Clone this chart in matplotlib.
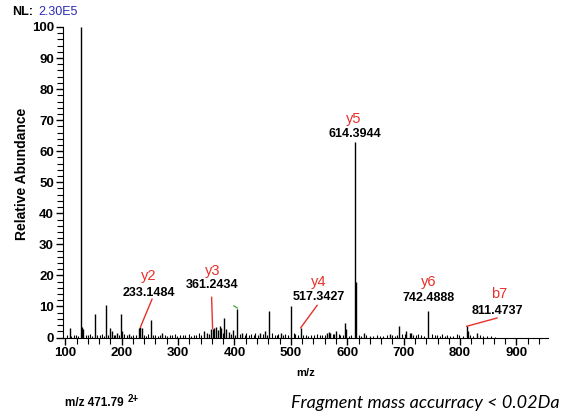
import matplotlib.pyplot as plt
from matplotlib.ticker import MultipleLocator

plt.rcParams['font.family'] = ['Liberation Sans', 'DejaVu Sans']

# MS/MS spectrum, precursor m/z 471.79 (2+)
# main / annotated fragment peaks
ion_labels = ['y2', 'y3', 'y4', 'y5', 'y6', 'b7']
ion_mz = [233.1484, 361.2434, 517.3427, 614.3944, 742.4888, 811.4737]
ion_int = [3.3, 2.8, 3.1, 63.0, 8.5, 3.6]

# other noticeable peaks
peak_mz = [107.7, 128.1, 130.0, 132.0, 152.6, 171.5, 180.0, 183.0, 192.0, 198.7,
           201.0, 213.0, 230.6, 235.5, 252.5, 272.0, 346.0, 352.0, 359.0, 363.6,
           367.7, 371.0, 373.6, 377.0, 382.0, 385.5, 390.0, 397.0, 405.0, 414.0,
           446.0, 455.0, 462.0, 481.7, 501.0, 564.0, 567.0, 570.0, 580.5, 596.5,
           598.0, 615.4, 629.0, 676.0, 692.0, 704.6, 710.5, 713.5, 813.3, 830.0]
peak_int = [3.0, 100.0, 3.4, 2.7, 7.7, 10.4, 3.2, 2.0, 1.6, 7.5,
            2.0, 1.2, 3.2, 3.0, 5.7, 1.4, 2.1, 1.6, 2.7, 3.0,
            3.5, 2.5, 3.8, 3.2, 6.2, 2.7, 1.8, 2.4, 9.1, 1.4,
            1.6, 2.1, 8.6, 1.6, 10.2, 1.6, 1.8, 1.6, 2.1, 4.6,
            2.7, 18.0, 1.6, 1.1, 3.75, 2.1, 1.4, 1.5, 2.1, 1.4]

# low level baseline peaks
noise_mz = [103, 111, 115, 119, 123, 136, 140, 144, 148, 157, 161, 165, 168, 175,
            186, 189, 195, 205, 209, 217, 221, 225, 239, 243, 247, 256, 260, 264,
            268, 277, 281, 286, 290, 295, 299, 304, 308, 313, 319, 323, 328, 332,
            337, 341, 355, 380, 393, 401, 409, 418, 421, 425, 430, 434, 437, 441,
            450, 458, 467, 471, 475, 478, 486, 490, 495, 505, 508, 512, 521, 526,
            531, 536, 541, 546, 552, 556, 560, 574, 576, 584.6, 588, 592, 603, 607,
            620, 625, 634, 640, 646, 652.6, 658, 664, 670, 679, 684, 688, 697,
            701.7, 717, 721, 726, 731, 736, 750, 755, 759, 764, 768, 773, 777, 782,
            788, 794.5, 799, 805, 818, 823, 836, 841, 848, 855, 862]
noise_int = [0.8, 0.6, 0.9, 0.7, 0.6, 0.8, 0.7, 1.0, 0.6, 0.9, 0.7, 1.1, 0.6, 0.8,
             0.9, 0.7, 0.8, 1.0, 0.7, 0.6, 0.9, 0.7, 0.8, 0.6, 1.0, 0.7, 0.9, 0.6,
             0.8, 0.7, 0.6, 0.9, 0.7, 1.0, 0.6, 0.8, 0.7, 0.9, 1.0, 0.6, 0.8, 0.7,
             1.3, 0.9, 1.2, 1.5, 1.1, 0.8, 1.0, 0.9, 1.5, 0.8, 1.0, 0.7, 1.3, 0.9,
             1.0, 0.8, 1.4, 0.9, 0.7, 1.0, 0.8, 1.0, 0.7, 1.5, 1.2, 0.8, 0.7, 0.9,
             0.6, 0.8, 0.7, 1.0, 0.8, 0.7, 0.9, 1.0, 1.2, 1.0, 0.7, 0.8, 0.6, 0.7,
             0.8, 0.6, 0.7, 0.6, 0.5, 0.8, 0.6, 0.5, 0.7, 0.8, 0.6, 0.7, 1.0,
             1.1, 0.8, 0.7, 1.2, 0.7, 0.6, 1.0, 0.7, 0.8, 0.6, 1.0, 0.6, 0.8, 0.5,
             0.6, 1.2, 0.7, 0.6, 0.8, 0.6, 0.7, 0.5, 0.4, 0.4, 0.3]

fig = plt.figure(figsize=(5.65, 4.19), dpi=100)
ax = fig.add_axes([0.1115, 0.1945, 0.8585, 0.7411])

ax.vlines(noise_mz, 0, noise_int, color='black', lw=0.8)
ax.vlines(peak_mz, 0, peak_int, color='black', lw=1.0)
ax.vlines(ion_mz, 0, ion_int, color='black', lw=1.0)

ax.set_xlim(96, 956)
ax.set_ylim(0, 100)

for s in ['top', 'right']:
    ax.spines[s].set_visible(False)
ax.spines['left'].set_bounds(0, 100)

ax.xaxis.set_major_locator(MultipleLocator(100))
ax.xaxis.set_minor_locator(MultipleLocator(20))
ax.yaxis.set_major_locator(MultipleLocator(10))
ax.yaxis.set_minor_locator(MultipleLocator(2))
ax.tick_params(axis='both', which='major', direction='out', length=5, width=1,
               labelsize=9.5, pad=1.5)
ax.tick_params(axis='both', which='minor', direction='out', length=4, width=0.8)
for lab in ax.get_xticklabels() + ax.get_yticklabels():
    lab.set_fontweight('bold')

ax.set_xlabel('m/z', fontsize=8, fontweight='bold', labelpad=7)
fig.text(0.039, 0.585, 'Relative Abundance', rotation=90, ha='center', va='center',
         fontsize=10, fontweight='bold')

# label positions (ion name, m/z text) and leader line end points
name_pos = [(248, 19.8), (361, 21.5), (549, 18.0), (611, 70.3), (743.5, 18.0), (869, 14.0)]
num_pos = [(248, 14.4), (361, 16.9), (549, 13.0), (614, 65.4), (743.5, 12.6), (866, 8.5)]
leaders = [(254, 12.4), (359.5, 13.0), (546.8, 10.4), None, None, (866, 6.3)]

red = '#e8302a'
for i in range(len(ion_labels)):
    ax.text(name_pos[i][0], name_pos[i][1], ion_labels[i], color=red, fontsize=10.5,
            ha='center', va='center')
    ax.text(num_pos[i][0], num_pos[i][1], f'{ion_mz[i]:.4f}', color='black', fontsize=9,
            fontweight='bold', ha='center', va='center')
    if leaders[i] is not None:
        ax.annotate('', xy=(ion_mz[i], ion_int[i]), xytext=leaders[i],
                    arrowprops=dict(arrowstyle='-', color=red, lw=1.0,
                                    shrinkA=0, shrinkB=0))

# small green mark near 405
ax.plot([399, 405], [10.2, 9.5], color='#33aa33', lw=0.9)

fig.text(0.021, 0.971, 'NL:', fontsize=9, fontweight='bold', va='center')
fig.text(0.067, 0.971, '2.30E5', fontsize=9, color='#2a2ab8', va='center')

fig.text(0.115, 0.038, 'm/z 471.79', fontsize=8.5, fontweight='bold', va='center')
fig.text(0.226, 0.048, '2+', fontsize=7, fontweight='bold', va='center')

fig.text(0.99, 0.038, 'Fragment mass accurracy < 0.02Da', fontsize=13, style='italic',
         ha='right', va='center', family=['Lato', 'DejaVu Sans'])

fig.savefig('out.png', dpi=100)
